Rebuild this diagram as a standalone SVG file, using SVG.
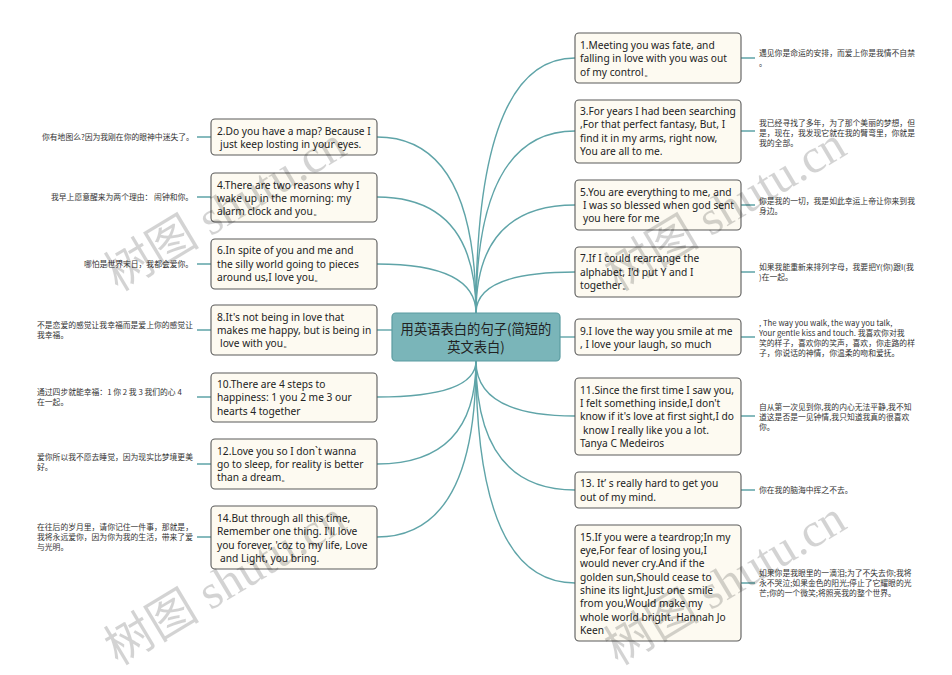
<svg xmlns="http://www.w3.org/2000/svg" width="952" height="675" viewBox="0 0 952 675">
<style>
.box{fill:#fdfaf1;stroke:#5a5a5a;stroke-width:1.1}
.en{font-family:"Noto Sans","Open Sans","Liberation Sans",sans-serif;font-size:10.2px;fill:#222}
.zh{font-family:"Noto Sans CJK SC","Noto Sans",sans-serif;font-size:7.8px;fill:#333}
.c{fill:none;stroke:#5fa4a8;stroke-width:1.4}
.wm{font-family:"Liberation Serif","Noto Sans CJK SC",serif;font-size:48px;fill:#000;opacity:0.17}
</style>
<rect width="952" height="675" fill="#fff"/>
<g id="connectors">
<path class="c" d="M476,313 Q476,58 575,58"/>
<path class="c" d="M476,313 Q476,131 575,131"/>
<path class="c" d="M476,313 Q476,205 575,205"/>
<path class="c" d="M476,313 Q476,272 575,272"/>
<path class="c" d="M476,313 Q476,137 377,137"/>
<path class="c" d="M476,313 Q476,197 377,197"/>
<path class="c" d="M476,313 Q476,264 377,264"/>
<path class="c" d="M392,330 L377,330"/>
<path class="c" d="M560,337 L575,337"/>
<path class="c" d="M476,361 Q476,416 575,416"/>
<path class="c" d="M476,361 Q476,490 575,490"/>
<path class="c" d="M476,361 Q476,583 575,583"/>
<path class="c" d="M476,361 Q476,397 377,397"/>
<path class="c" d="M476,361 Q476,464 377,464"/>
<path class="c" d="M476,361 Q476,537 377,537"/>
<path class="c" d="M741,58 L755,58 M741,131 L755,131 M741,205 L755,205 M741,272 L755,272 M741,337 L755,337 M741,416 L755,416 M741,490 L755,490 M741,583 L755,583"/>
<path class="c" d="M211,137 L197,137 M211,197 L197,197 M211,264 L197,264 M211,330 L197,330 M211,397 L197,397 M211,464 L197,464 M211,537 L197,537"/>
</g>
<g id="center">
<rect x="392" y="313" width="168" height="48" rx="4" fill="#7ab5b9" stroke="#5b9ca1" stroke-width="1.2"/>
<text x="476" y="334" text-anchor="middle" font-family="Noto Sans CJK SC, sans-serif" font-size="13.3" fill="#222">用英语表白的句子(简短的</text>
<text x="476" y="352" text-anchor="middle" font-family="Noto Sans CJK SC, sans-serif" font-size="13.3" fill="#222">英文表白)</text>
</g>
<g id="n1">
<rect class="box" x="575" y="33" width="166" height="50" rx="4"/>
<text class="en" x="580" y="49">1.Meeting you was fate, and</text>
<text class="en" x="580" y="62">falling in love with you was out</text>
<text class="en" x="580" y="76">of my control。</text>
<text class="zh" x="759" y="56">遇见你是命运的安排，而爱上你是我情不自禁</text>
<text class="zh" x="759" y="66">。</text>
</g>
<g id="n3">
<rect class="box" x="575" y="100" width="166" height="63" rx="4"/>
<text class="en" x="580" y="115">3.For years I had been searching</text>
<text class="en" x="580" y="128">,For that perfect fantasy, But, I</text>
<text class="en" x="580" y="142">find it in my arms, right now,</text>
<text class="en" x="580" y="155">You are all to me.</text>
<text class="zh" x="759" y="126">我已经寻找了多年，为了那个美丽的梦想，但</text>
<text class="zh" x="759" y="136">是，现在，我发现它就在我的臂弯里，你就是</text>
<text class="zh" x="759" y="146">我的全部。</text>
</g>
<g id="n5">
<rect class="box" x="575" y="180" width="166" height="50" rx="4"/>
<text class="en" x="580" y="196">5.You are everything to me, and</text>
<text class="en" x="583" y="209">I was so blessed when god sent</text>
<text class="en" x="583" y="222">you here for me</text>
<text class="zh" x="759" y="204">你是我的一切，我是如此幸运上帝让你来到我</text>
<text class="zh" x="759" y="214">身边。</text>
</g>
<g id="n7">
<rect class="box" x="575" y="247" width="166" height="50" rx="4"/>
<text class="en" x="580" y="262">7.If I could rearrange the</text>
<text class="en" x="580" y="276">alphabet, I'd put Y and I</text>
<text class="en" x="580" y="289">together。</text>
<text class="zh" x="759" y="270">如果我能重新来排列字母，我要把Y(你)跟I(我</text>
<text class="zh" x="759" y="280">)在一起。</text>
</g>
<g id="n9">
<rect class="box" x="575" y="319" width="166" height="36" rx="4"/>
<text class="en" x="580" y="335">9.I love the way you smile at me</text>
<text class="en" x="580" y="348">, I love your laugh, so much</text>
<text class="zh" x="759" y="326">, The way you walk, the way you talk,</text>
<text class="zh" x="759" y="336">Your gentle kiss and touch. 我喜欢你对我</text>
<text class="zh" x="759" y="346">笑的样子，喜欢你的笑声，喜欢，你走路的样</text>
<text class="zh" x="759" y="356">子，你说话的神情，你温柔的吻和爱抚。</text>
</g>
<g id="n11">
<rect class="box" x="575" y="378" width="166" height="77" rx="4"/>
<text class="en" x="580" y="394">11.Since the first time I saw you,</text>
<text class="en" x="580" y="407">I felt something inside,I don't</text>
<text class="en" x="580" y="420">know if it's love at first sight,I do</text>
<text class="en" x="583" y="434">know I really like you a lot.</text>
<text class="en" x="580" y="447">Tanya C Medeiros</text>
<text class="zh" x="759" y="410">自从第一次见到你,我的内心无法平静,我不知</text>
<text class="zh" x="759" y="420">道这是否是一见钟情,我只知道我真的很喜欢</text>
<text class="zh" x="759" y="430">你。</text>
</g>
<g id="n13">
<rect class="box" x="575" y="472" width="166" height="36" rx="4"/>
<text class="en" x="580" y="487">13. It’ s really hard to get you</text>
<text class="en" x="580" y="501">out of my mind.</text>
<text class="zh" x="759" y="493">你在我的脑海中挥之不去。</text>
</g>
<g id="n15">
<rect class="box" x="575" y="525" width="166" height="116" rx="4"/>
<text class="en" x="580" y="541">15.If you were a teardrop;In my</text>
<text class="en" x="580" y="554">eye,For fear of losing you,I</text>
<text class="en" x="580" y="567">would never cry.And if the</text>
<text class="en" x="580" y="581">golden sun,Should cease to</text>
<text class="en" x="580" y="594">shine its light,Just one smile</text>
<text class="en" x="580" y="607">from you,Would make my</text>
<text class="en" x="580" y="621">whole world bright. Hannah Jo</text>
<text class="en" x="580" y="634">Keen</text>
<text class="zh" x="759" y="576">如果你是我眼里的一滴泪;为了不失去你;我将</text>
<text class="zh" x="759" y="586">永不哭泣;如果金色的阳光;停止了它耀眼的光</text>
<text class="zh" x="759" y="596">芒;你的一个微笑;将照亮我的整个世界。</text>
</g>
<g id="n2">
<rect class="box" x="211" y="119" width="166" height="36" rx="4"/>
<text class="en" x="217" y="135">2.Do you have a map? Because I</text>
<text class="en" x="220" y="148">just keep losting in your eyes.</text>
<text class="zh" x="42" y="140">你有地图么?因为我刚在你的眼神中迷失了。</text>
</g>
<g id="n4">
<rect class="box" x="211" y="173" width="166" height="49" rx="4"/>
<text class="en" x="217" y="189">4.There are two reasons why I</text>
<text class="en" x="217" y="202">wake up in the morning: my</text>
<text class="en" x="217" y="215">alarm clock and you。</text>
<text class="zh" x="51" y="200">我早上愿意醒来为两个理由： 闹钟和你。</text>
</g>
<g id="n6">
<rect class="box" x="211" y="239" width="166" height="50" rx="4"/>
<text class="en" x="217" y="254">6.In spite of you and me and</text>
<text class="en" x="217" y="268">the silly world going to pieces</text>
<text class="en" x="217" y="281">around us,I love you。</text>
<text class="zh" x="84" y="267">哪怕是世界末日，我都会爱你。</text>
</g>
<g id="n8">
<rect class="box" x="211" y="305" width="166" height="50" rx="4"/>
<text class="en" x="217" y="321">8.It's not being in love that</text>
<text class="en" x="217" y="334">makes me happy, but is being in</text>
<text class="en" x="220" y="347">love with you。</text>
<text class="zh" x="37" y="328">不是恋爱的感觉让我幸福而是爱上你的感觉让</text>
<text class="zh" x="37" y="338">我幸福。</text>
</g>
<g id="n10">
<rect class="box" x="211" y="373" width="166" height="49" rx="4"/>
<text class="en" x="217" y="388">10.There are 4 steps to</text>
<text class="en" x="217" y="401">happiness: 1 you 2 me 3 our</text>
<text class="en" x="217" y="415">hearts 4 together</text>
<text class="zh" x="37" y="395">通过四步就能幸福：1 你 2 我 3 我们的心 4</text>
<text class="zh" x="37" y="405">在一起。</text>
</g>
<g id="n12">
<rect class="box" x="211" y="439" width="166" height="50" rx="4"/>
<text class="en" x="217" y="455">12.Love you so I don`t wanna</text>
<text class="en" x="217" y="468">go to sleep, for reality is better</text>
<text class="en" x="217" y="481">than a dream。</text>
<text class="zh" x="37" y="460">爱你所以我不愿去睡觉，因为现实比梦境更美</text>
<text class="zh" x="37" y="470">好。</text>
</g>
<g id="n14">
<rect class="box" x="211" y="506" width="166" height="63" rx="4"/>
<text class="en" x="217" y="522">14.But through all this time,</text>
<text class="en" x="217" y="535">Remember one thing. I'll love</text>
<text class="en" x="217" y="549">you forever, 'coz to my life, Love</text>
<text class="en" x="220" y="562">and Light, you bring.</text>
<text class="zh" x="37" y="530">在往后的岁月里，请你记住一件事，那就是，</text>
<text class="zh" x="37" y="540">我将永远爱你，因为你为我的生活，带来了爱</text>
<text class="zh" x="37" y="550">与光明。</text>
</g>
<g id="watermarks">
<text class="wm" transform="translate(118,292) rotate(-31)">树图 shutu.cn</text>
<text class="wm" transform="translate(618,292) rotate(-31)">树图 shutu.cn</text>
<text class="wm" transform="translate(118,666) rotate(-31)">树图 shutu.cn</text>
<text class="wm" transform="translate(618,666) rotate(-31)">树图 shutu.cn</text>
</g>
</svg>
